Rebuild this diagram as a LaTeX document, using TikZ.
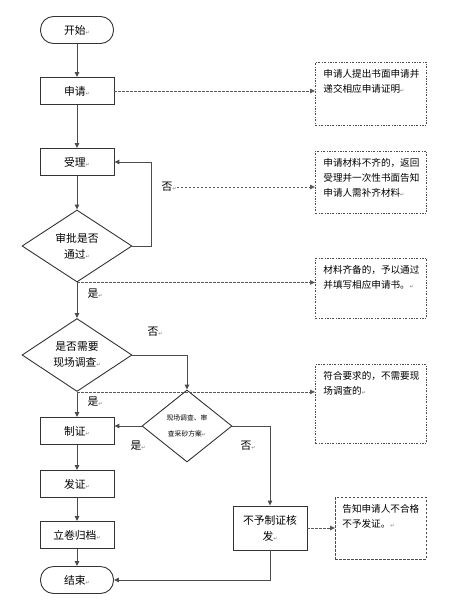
\documentclass[tikz,border=0pt]{standalone}
\usepackage{fontspec}
\setmainfont{Noto Sans CJK SC}
\newfontfamily\dejavu{DejaVu Sans}
\usetikzlibrary{shapes.geometric,arrows.meta}
\newcommand\parmark{{\dejavu\fontsize{5}{5}\selectfont\color{black!55}↵}}
\newcommand\notetext[3]{\parbox[t][#2][t]{#1}{#3}}
\tikzstyle{every node}=[font=\fontsize{10.8}{16}\selectfont,text=black]
\tikzstyle{terminal}=[draw=black!80,line width=0.9pt,rounded corners=13pt,minimum width=73pt,minimum height=27pt,inner sep=0pt]
\tikzstyle{process}=[draw=black!80,line width=0.9pt,minimum width=74pt,minimum height=27pt,inner sep=0pt,align=center]
\tikzstyle{decision}=[draw=black!80,line width=0.9pt,diamond,minimum width=110pt,minimum height=72pt,inner sep=0pt,align=center]
\tikzstyle{note}=[draw=black!70,line width=0.8pt,dash pattern=on 2pt off 1.5pt on 0.6pt off 1.5pt,anchor=north west,inner xsep=8pt,inner ysep=7pt,font=\fontsize{9.6}{15}\selectfont]
\tikzstyle{flow}=[draw=black!70,line width=1pt,-{Triangle[length=5pt,width=4.5pt]}]
\tikzstyle{hint}=[draw=black!65,line width=0.8pt,dash pattern=on 2.5pt off 1.5pt,-{Triangle[length=5pt,width=4.5pt]}]
\tikzstyle{tag}=[inner sep=0pt]
\begin{document}
\begin{tikzpicture}[x=1pt,y=-1pt]
  \useasboundingbox (0,0) rectangle (475,600);

  % main flow
  \node[terminal] (start) at (77,30) {开始\parmark};
  \node[process] (apply) at (77,91) {申请\parmark};
  \node[process] (accept) at (77,162) {受理\parmark};
  \node[decision] (pass) at (77,246) {审批是否\\通过\parmark};
  \node[decision] (survey) at (77,355) {是否需要\\现场调查\parmark};
  \node[decision,minimum width=90pt,font=\fontsize{6.8}{16}\selectfont] (check) at (187,426) {现场调查、审\\查采砂方案\parmark};
  \node[process] (make) at (77,431) {制证\parmark};
  \node[process] (issue) at (77,484) {发证\parmark};
  \node[process] (archive) at (77,535) {立卷归档\parmark};
  \node[terminal] (finish) at (77,580) {结束\parmark};
  \node[process,minimum height=44pt] (refuse) at (270,528) {不予制证核\\发\parmark};

  % notes
  \node[note] (n1) at (315,62) {\notetext{95pt}{49pt}{申请人提出书面申请并\\递交相应申请证明\parmark}};
  \node[note] (n2) at (315,151) {\notetext{95pt}{48pt}{申请材料不齐的，返回\\受理并一次性书面告知\\申请人需补齐材料\parmark}};
  \node[note] (n3) at (315,258) {\notetext{95pt}{46pt}{材料齐备的，予以通过\\并填写相应申请书。\parmark}};
  \node[note] (n4) at (315,364) {\notetext{95pt}{65pt}{符合要求的，不需要现\\场调查的\parmark}};
  \node[note,dash pattern=on 2.5pt off 1.5pt,inner xsep=7pt] (n5) at (335,497) {\notetext{77pt}{48pt}{告知申请人不合格\\不予发证。\parmark}};

  % labels
  \node[tag] (no1) at (169,187) {否\parmark};
  \node[tag] (yes1) at (95,294) {是\parmark};
  \node[tag] (no2) at (155,332) {否\parmark};
  \node[tag] (yes2) at (95,402) {是\parmark};
  \node[tag] (yes3) at (138,446) {是\parmark};
  \node[tag] (no3) at (248,446) {否\parmark};

  % connectors
  \draw[flow] (start) -- (apply);
  \draw[flow] (apply) -- (accept);
  \draw[flow] (accept) -- (pass);
  \draw[flow] (pass.east) -- ++(19,0) |- (accept.east);
  \draw[flow] (pass) -- (survey);
  \draw[flow] (survey.east) -| (check.north);
  \draw[flow] (survey) -- (make);
  \draw[flow] (check.west) -- (check.west -| make.east);
  \draw[flow] (check.east) -| (refuse.north);
  \draw[flow] (make) -- (issue);
  \draw[flow] (issue) -- (archive);
  \draw[flow] (archive) -- (finish);
  \draw[flow] (refuse.south) |- (finish.east);

  \draw[hint] (apply.east) -- (apply.east -| n1.west);
  \draw[hint] (no1.east) -- (no1.east -| n2.west);
  \draw[hint] (pass.south) -- (pass.south -| n3.west);
  \draw[hint] (survey.south) -- (survey.south -| n4.west);
  \draw[hint] (refuse.east) -- (refuse.east -| n5.west);
\end{tikzpicture}
\end{document}
